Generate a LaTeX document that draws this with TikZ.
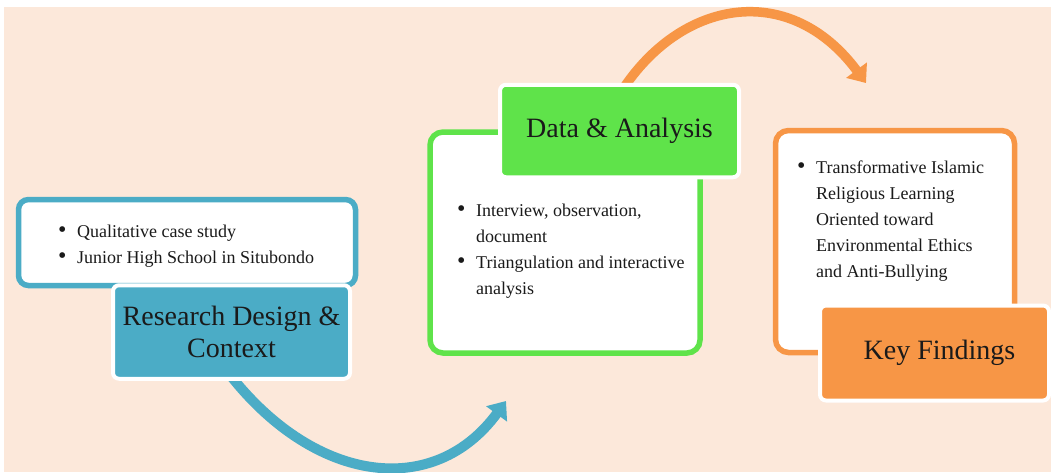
\documentclass[tikz,border=0pt]{standalone}
\usepackage{fontspec}
\setmainfont{Liberation Serif}
\usetikzlibrary{arrows.meta}
\definecolor{peach}{HTML}{FCE8DA}
\definecolor{cblue}{HTML}{4BACC6}
\definecolor{cgreen}{HTML}{5FE34A}
\definecolor{corange}{HTML}{F79646}
\definecolor{ink}{HTML}{1A1A1A}
\pgfdeclarelayer{bgzero}
\pgfdeclarelayer{bgone}
\pgfsetlayers{bgzero,bgone,main}
\newcommand{\bul}{\makebox[19pt][l]{\raisebox{-0.6pt}{\fontsize{24}{26}\selectfont\textbullet}}}
\begin{document}
\begin{tikzpicture}[x=1pt,y=-1pt,
  outline/.style={fill=white, line width=5.5pt, rounded corners=13pt, inner sep=0pt},
  titlebox/.style={draw=white, line width=4pt, rounded corners=6pt, inner sep=0pt,
    font=\fontsize{28}{32}\selectfont, text=ink, align=center},
  bultext/.style={inner sep=0pt, anchor=base west, text=ink, font=\fontsize{18}{26}\selectfont},
  flow/.style={line cap=butt}
]
\useasboundingbox (0,0) rectangle (1051,472);
\begin{pgfonlayer}{bgzero}
  \fill[white] (0,0) rectangle (1051,472);
  \fill[peach] (4,7) rectangle (1051,472);
\end{pgfonlayer}

% Box 1
\node[outline, draw=cblue, rounded corners=10pt, minimum width=337pt, minimum height=86pt] (b1) at (187,242.5) {};
\node[bultext] (l1) at (58,237) {\begin{tabular}[t]{@{}l@{}l@{}}
\bul & Qualitative case study\\
\bul & Junior High School in Situbondo
\end{tabular}};
\node[titlebox, fill=cblue, minimum width=237pt, minimum height=93.5pt] (t1) at (231.5,332) {Research Design \&\\Context};

% Box 2
\node[outline, draw=cgreen, minimum width=270pt, minimum height=221pt] (b2) at (565,242.5) {};
\node[bultext] (l2) at (457,216) {\begin{tabular}[t]{@{}l@{}l@{}}
\bul & Interview, observation,\\
 & document\\
\bul & Triangulation and interactive\\
 & analysis
\end{tabular}};
\node[titlebox, fill=cgreen, minimum width=239pt, minimum height=92.5pt] (t2) at (619.5,131) {Data \& Analysis};

% Box 3
\node[outline, draw=corange, minimum width=239pt, minimum height=222pt] (b3) at (895,241.5) {};
\node[bultext] (l3) at (797,173) {\begin{tabular}[t]{@{}l@{}l@{}}
\bul & Transformative Islamic\\
 & Religious Learning\\
 & Oriented toward\\
 & Environmental Ethics\\
 & and Anti-Bullying
\end{tabular}};
\node[titlebox, fill=corange, minimum width=229pt, minimum height=95pt] (t3) at (934.5,353) {\hspace*{10pt}Key Findings};

% Arrows
\coordinate (e1) at (506,401);
\coordinate (e2) at (866,83);
\begin{pgfonlayer}{bgone}
  \draw[flow, cblue, line width=10pt, -{Triangle[length=16pt,width=25pt]}]
    ([yshift=4pt]t1.south) .. controls (317,484) and (434.5,498.5) .. (e1);
  \draw[flow, corange, line width=9.5pt, -{Triangle[length=16pt,width=25pt]}]
    ([xshift=5pt,yshift=-4pt]t2.north) .. controls (685,-2) and (791,-18) .. (e2);
\end{pgfonlayer}
\end{tikzpicture}
\end{document}
